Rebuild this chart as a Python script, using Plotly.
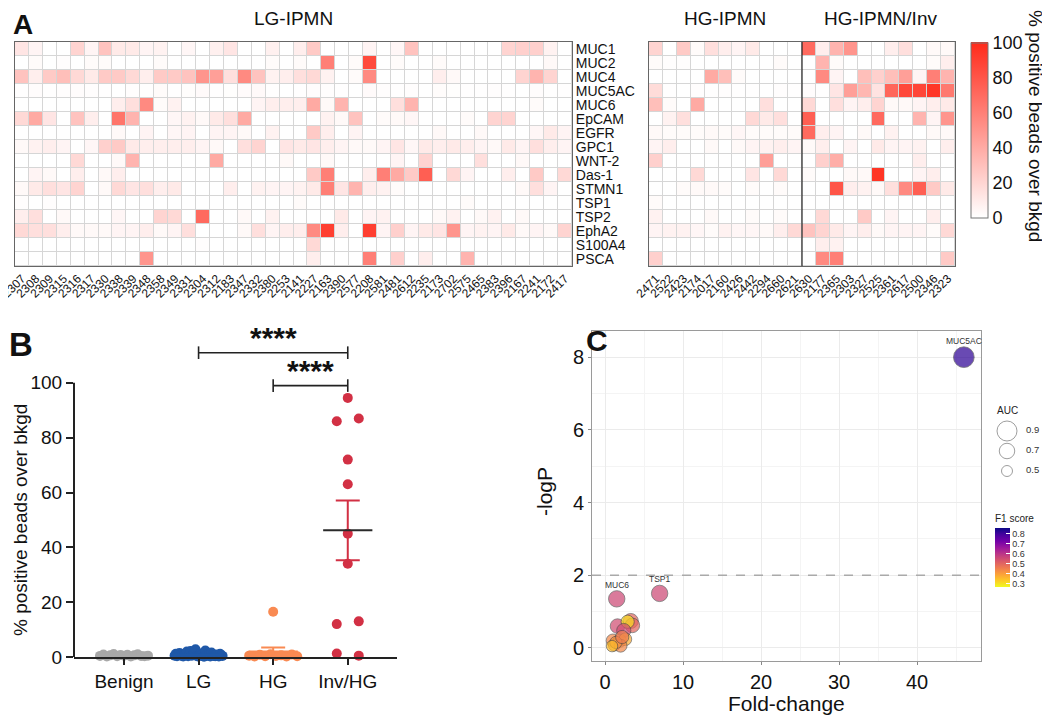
import numpy as np
import plotly.graph_objects as go

# The page body has an 8px default margin: the figure is sized to the visible area
OFF = 8
W, H = 1050 - OFF, 719 - OFF
FONT = "Arial, Liberation Sans, sans-serif"

def PX(x):
    return (x - OFF) / W

def PY(y):
    return 1 - (y - OFF) / H

# ---------------- Panel A data ----------------
markers = ["MUC1", "MUC2", "MUC4", "MUC5AC", "MUC6", "EpCAM", "EGFR", "GPC1",
           "WNT-2", "Das-1", "STMN1", "TSP1", "TSP2", "EphA2", "S100A4", "PSCA"]

lg_samples = ["2307", "2308", "2309", "2315", "2316", "2317", "2330", "2338", "2339", "2348",
              "2358", "2349", "2331", "2304", "2312", "2183", "2347", "2332", "2380", "2253",
              "2141", "2227", "2163", "2390", "2577", "2208", "2581", "2481", "2612", "2235",
              "2173", "2702", "2575", "2465", "2383", "2396", "2167", "2241", "2172", "2417"]
hg_samples = ["2471", "2522", "2423", "2174", "2017", "2160", "2426", "2442", "2294", "2660", "2621"]
inv_samples = ["2630", "2177", "2365", "2303", "2327", "2525", "2361", "2617", "2500", "2346", "2323"]

# % positive beads over bkgd, LG-IPMN (rows = markers, cols = lg_samples)
lg_muc1 = [12, 5, 0, 0, 20, 5, 28, 10, 10, 5, 6, 0, 4, 0, 7, 12, 0, 0, 7, 0,
           8, 25, 0, 0, 0, 5, 0, 4, 28, 0, 0, 0, 0, 0, 0, 20, 22, 22, 6, 0]
lg_muc2 = [0, 2, 0, 1, 0, 2, 2, 0, 0, 0, 2, 0, 0, 0, 0, 0, 0, 0, 2, 0,
           2, 0, 60, 0, 2, 85, 0, 2, 0, 0, 2, 0, 0, 0, 0, 0, 0, 0, 3, 0]
lg_muc4 = [28, 8, 25, 30, 18, 10, 25, 25, 18, 8, 25, 25, 28, 50, 45, 15, 55, 28, 6, 8,
           15, 18, 6, 0, 2, 55, 0, 0, 0, 0, 8, 3, 0, 0, 0, 0, 20, 35, 20, 0]
lg_muc5ac = [0.5, 1.2, 0.3, 0.8, 1.5, 1.0, 0.4, 0.2, 0.9, 0.6, 2.0, 0.3, 1.1, 2.2, 0.5, 0.7, 1.8, 2.8, 0.4, 0.2,
             0.6, 1.3, 0.8, 0.3, 0.1, 2.4, 0.9, 0.5, 1.0, 0.2, 1.6, 0.7, 0.4, 0.3, 0.9, 0.5, 0.2, 1.2, 0.6, 0.4]
lg_muc6 = [0, 0, 0, 0, 0, 0, 0, 8, 15, 55, 2, 6, 0, 0, 0, 0, 0, 5, 8, 8,
           8, 40, 3, 35, 0, 0, 0, 15, 35, 0, 0, 0, 0, 0, 0, 0, 0, 2, 0, 0]
lg_epcam = [18, 40, 12, 0, 28, 8, 0, 65, 35, 0, 0, 4, 6, 3, 10, 15, 40, 0, 0, 0,
            0, 0, 6, 3, 28, 0, 2, 3, 4, 0, 0, 0, 2, 0, 20, 20, 0, 0, 0, 0]
lg_egfr = [0, 0, 0, 0, 0, 0, 0, 3, 0, 5, 0, 4, 5, 0, 5, 5, 3, 0, 6, 0,
           0, 25, 8, 0, 5, 0, 0, 0, 0, 0, 3, 0, 0, 3, 0, 0, 0, 4, 10, 5]
lg_gpc1 = [3, 6, 8, 5, 0, 4, 22, 25, 10, 8, 8, 8, 8, 5, 3, 0, 15, 20, 0, 12,
           10, 12, 8, 5, 3, 3, 5, 12, 4, 10, 8, 10, 8, 5, 3, 10, 5, 15, 8, 5]
lg_wnt2 = [0, 0, 0, 0, 18, 0, 0, 3, 35, 0, 0, 0, 0, 0, 40, 0, 0, 0, 0, 3,
           0, 0, 3, 0, 0, 0, 0, 5, 0, 20, 0, 0, 0, 15, 0, 0, 3, 0, 0, 0]
lg_das1 = [0, 5, 3, 0, 8, 0, 3, 8, 0, 0, 0, 0, 0, 0, 0, 0, 0, 0, 0, 0,
           0, 25, 60, 0, 0, 8, 60, 40, 25, 75, 0, 18, 5, 0, 0, 8, 0, 25, 0, 18]
lg_stmn1 = [3, 10, 15, 12, 20, 0, 3, 18, 12, 15, 8, 10, 0, 0, 0, 8, 0, 6, 5, 5,
            6, 10, 60, 12, 35, 8, 6, 2, 0, 0, 0, 0, 0, 0, 0, 0, 3, 15, 5, 0]
lg_tsp1 = [1, 0, 1, 0, 0, 0, 0, 0, 0, 0, 0, 0, 0, 0, 0, 0, 0, 0, 0, 0,
           2, 0, 0, 0, 0, 0, 0, 0, 0, 0, 0, 0, 2, 0, 0, 0, 0, 0, 0, 0]
lg_tsp2 = [8, 15, 0, 3, 0, 0, 0, 4, 0, 0, 20, 18, 0, 70, 0, 0, 3, 0, 6, 0,
           0, 0, 0, 10, 0, 5, 6, 0, 0, 0, 3, 6, 0, 3, 6, 0, 3, 0, 0, 0]
lg_epha2 = [18, 15, 15, 8, 3, 3, 3, 5, 5, 8, 3, 5, 15, 0, 0, 0, 3, 15, 5, 8,
            8, 55, 90, 8, 0, 90, 5, 22, 5, 10, 12, 50, 5, 6, 5, 10, 3, 5, 3, 20]
lg_s100a4 = [0, 0, 0, 0, 0, 0, 0, 0, 0, 0, 0, 0, 0, 1, 0, 0, 0, 0, 0, 0,
             0, 18, 0, 0, 0, 0, 0, 0, 0, 0, 0, 0, 0, 0, 0, 0, 0, 0, 0, 0]
lg_psca = [0, 0, 0, 0, 0, 0, 0, 0, 0, 50, 0, 0, 0, 0, 0, 0, 0, 0, 0, 0,
           0, 8, 0, 0, 0, 60, 0, 22, 0, 8, 0, 0, 35, 0, 0, 0, 0, 0, 0, 0]

# HG-IPMN (11) followed by HG-IPMN/Inv (11)
hg_muc1 = [20, 0, 25, 2, 15, 8, 5, 10, 0, 0, 0, 70, 8, 35, 50, 0, 0, 8, 15, 0, 3, 3]
hg_muc2 = [2, 1, 1, 0, 0, 0, 0, 0, 0, 2, 0, 0, 35, 2, 0, 0, 0, 0, 0, 0, 2, 8]
hg_muc4 = [0, 0, 0, 0, 40, 30, 2, 0, 0, 0, 0, 0, 55, 5, 0, 30, 22, 30, 45, 5, 60, 35]
hg_muc5ac = [16.5, 0.5, 0.2, 0.8, 0.3, 1.0, 0.4, 0.6, 0.2, 0.9, 0.3,
             1.3, 0.5, 12, 45, 34, 13, 72, 86, 87, 94.5, 63]
hg_muc6 = [30, 2, 0, 40, 0, 0, 0, 0, 15, 0, 0, 18, 0, 15, 5, 8, 20, 3, 3, 5, 8, 10]
hg_epcam = [0, 6, 15, 0, 0, 0, 0, 18, 10, 15, 0, 75, 0, 0, 0, 0, 70, 0, 0, 35, 5, 50]
hg_egfr = [3, 2, 2, 2, 3, 2, 4, 2, 2, 2, 2, 70, 8, 5, 0, 3, 0, 6, 0, 0, 3, 3]
hg_gpc1 = [5, 8, 0, 0, 3, 0, 3, 5, 6, 8, 5, 3, 8, 0, 5, 0, 10, 5, 5, 6, 0, 8]
hg_wnt2 = [22, 0, 0, 0, 0, 0, 0, 0, 45, 0, 0, 0, 22, 38, 0, 0, 0, 0, 0, 8, 0, 0]
hg_das1 = [0, 0, 0, 18, 0, 0, 0, 12, 0, 18, 0, 2, 0, 0, 3, 3, 95, 0, 0, 5, 8, 0]
hg_stmn1 = [0, 0, 2, 3, 3, 2, 0, 2, 0, 2, 0, 0, 0, 80, 8, 6, 3, 15, 55, 75, 25, 10]
hg_tsp1 = [2, 0, 0, 0, 0, 0, 0, 0, 0, 0, 0, 0, 0, 0, 0, 0, 0, 0, 0, 0, 0, 0]
hg_tsp2 = [6, 0, 0, 0, 3, 0, 0, 2, 0, 2, 0, 0, 18, 0, 0, 25, 0, 5, 0, 0, 8, 0]
hg_epha2 = [5, 6, 6, 4, 2, 6, 4, 4, 3, 8, 18, 28, 20, 10, 5, 8, 3, 5, 5, 5, 2, 18]
hg_s100a4 = [0, 0, 0, 0, 0, 0, 0, 0, 0, 0, 0, 0, 8, 6, 0, 0, 0, 0, 0, 0, 0, 0]
hg_psca = [22, 0, 0, 0, 0, 0, 0, 0, 0, 0, 0, 0, 55, 60, 0, 0, 0, 0, 0, 0, 0, 25]

lg_z = [lg_muc1, lg_muc2, lg_muc4, lg_muc5ac, lg_muc6, lg_epcam, lg_egfr, lg_gpc1,
        lg_wnt2, lg_das1, lg_stmn1, lg_tsp1, lg_tsp2, lg_epha2, lg_s100a4, lg_psca]
hg_z = [hg_muc1, hg_muc2, hg_muc4, hg_muc5ac, hg_muc6, hg_epcam, hg_egfr, hg_gpc1,
        hg_wnt2, hg_das1, hg_stmn1, hg_tsp1, hg_tsp2, hg_epha2, hg_s100a4, hg_psca]

# ---------------- Panel B data (MUC5AC) ----------------
b_groups = ["Benign", "LG", "HG", "Inv/HG"]
benign_vals = [0.4, 0.9, 0.2, 0.6, 1.1, 0.3, 0.7, 0.5, 0.8, 0.2, 0.6, 1.0, 0.4, 0.3, 0.5]
lg_vals = lg_muc5ac
hg_vals = hg_muc5ac[:11]
inv_vals = hg_muc5ac[11:]
b_colors = ["#A8A8A8", "#1F58A8", "#F98A52", "#D23044"]

# ---------------- Panel C data ----------------
c_genes = ["MUC5AC", "TSP1", "MUC6", "MUC1", "MUC4", "EpCAM", "Das-1", "STMN1",
           "MUC2", "EGFR", "PSCA", "GPC1", "WNT-2", "TSP2", "EphA2", "S100A4"]
fold_change = [46.0, 7.0, 1.5, 1.6, 3.3, 3.5, 2.9, 2.4, 1.0, 1.9, 2.6, 1.2, 2.0, 1.4, 2.2, 0.9]
neg_log_p = [8.0, 1.5, 1.35, 0.6, 0.74, 0.62, 0.72, 0.48, 0.2, 0.2, 0.24, 0.08, 0.06, 0.15, 0.3, 0.05]
auc_vals = [0.93, 0.74, 0.74, 0.66, 0.68, 0.66, 0.6, 0.64, 0.6, 0.6, 0.58, 0.55, 0.58, 0.56, 0.6, 0.52]
f1_vals = [0.82, 0.56, 0.56, 0.55, 0.50, 0.50, 0.31, 0.55, 0.44, 0.45, 0.38, 0.38, 0.44, 0.42, 0.46, 0.36]
auc_legend = [0.9, 0.7, 0.5]

fig = go.Figure()

# ---------------- geometry (page pixels) ----------------
A1 = dict(x0=15, x1=572, y0=42, y1=266)
A2 = dict(x0=649, x1=955, y0=42, y1=266)
B = dict(x0=74, x1=397, y0=328, y1=657)
B_XR = [-0.67, 3.66]
B_YR = [0, 120]
C = dict(x0=592, x1=981, y0=331, y1=661)
C_XR = [-1.67, 48.2]
C_YR = [-0.36, 8.72]


def dom(g):
    return [PX(g["x0"]), PX(g["x1"])], [PY(g["y1"]), PY(g["y0"])]

# ---------------- Panel A heatmaps ----------------
fig.add_trace(go.Heatmap(z=lg_z, x=lg_samples, y=markers, coloraxis="coloraxis",
                         xgap=1, ygap=1, xaxis="x", yaxis="y"))
fig.add_trace(go.Heatmap(z=hg_z, x=hg_samples + inv_samples, y=markers, coloraxis="coloraxis",
                         xgap=1, ygap=1, xaxis="x2", yaxis="y2"))

for ax in ["x", "x2"]:
    yref = "y" if ax == "x" else "y2"
    fig.add_shape(type="rect", xref=ax + " domain", yref=yref + " domain", x0=0, x1=1, y0=0, y1=1,
                  fillcolor="#D6D6D6", line=dict(width=0), layer="below")

fig.add_shape(type="line", xref="x2", yref="y2 domain", x0=len(hg_samples) - 0.5, x1=len(hg_samples) - 0.5,
              y0=0, y1=1, line=dict(color="#222", width=1.2))

# ---------------- Panel B ----------------
b_xpx = (B["x1"] - B["x0"]) / (B_XR[1] - B_XR[0])
b_ypx = (B["y1"] - B["y0"]) / (B_YR[1] - B_YR[0])


def swarm(vals, dmin=10.0, max_half=24.0, max_sp=22.0):
    n = len(vals)
    order = sorted(range(n), key=lambda i: vals[i])
    rows = []
    for i in order:
        if rows and (vals[i] - vals[rows[-1][0]]) * b_ypx < dmin:
            rows[-1].append(i)
        else:
            rows.append([i])
    offs = [0.0] * n
    for r in rows:
        r = sorted(r)
        m = len(r)
        if m == 1:
            continue
        sp = min(max_sp, 2 * max_half / (m - 1))
        for k, i in enumerate(r):
            offs[i] = (k - (m - 1) / 2) * sp / b_xpx
    return offs

all_b = [benign_vals, lg_vals, hg_vals, inv_vals]
for gi, vals in enumerate(all_b):
    offs = swarm(vals)
    fig.add_trace(go.Scatter(x=[gi + o for o in offs], y=vals, mode="markers",
                             marker=dict(size=10, color=b_colors[gi], line=dict(width=0)),
                             cliponaxis=False, xaxis="x3", yaxis="y3", showlegend=False))
for gi, vals in enumerate(all_b):
    arr = np.array(vals, dtype=float)
    m = arr.mean()
    sem = arr.std(ddof=1) / np.sqrt(len(arr))
    col = b_colors[gi]
    fig.add_trace(go.Scatter(x=[gi], y=[m], mode="markers", marker=dict(size=1, opacity=0),
                             error_y=dict(type="data", array=[sem], color=col, thickness=2, width=12),
                             cliponaxis=False, xaxis="x3", yaxis="y3", showlegend=False))
    fig.add_trace(go.Scatter(x=[gi - 0.33, gi + 0.33], y=[m, m], mode="lines",
                             line=dict(color="#2A2A2A" if gi == 3 else col, width=2),
                             xaxis="x3", yaxis="y3", showlegend=False))


def bx(v):
    return PX(B["x0"] + (v - B_XR[0]) * b_xpx)


def by(v):
    return PY(B["y1"] - (v - B_YR[0]) * b_ypx)

# y axis line 0..100
fig.add_shape(type="line", xref="paper", yref="paper", x0=bx(B_XR[0]), x1=bx(B_XR[0]),
              y0=by(0), y1=by(100), line=dict(color="#222", width=2))

# significance brackets
brackets = [(1, 3, 111, "****", 116.5), (2, 3, 99, "****", 104.5)]
for a, b, yv, txt, ty in brackets:
    fig.add_shape(type="line", xref="paper", yref="paper", x0=bx(a), x1=bx(b), y0=by(yv), y1=by(yv),
                  line=dict(color="#222", width=1.6))
    for e in (a, b):
        fig.add_shape(type="line", xref="paper", yref="paper", x0=bx(e), x1=bx(e),
                      y0=by(yv - 2.3), y1=by(yv + 2.3), line=dict(color="#222", width=1.6))
    fig.add_annotation(x=(a + b) / 2, y=ty, xref="x3", yref="y3", text="<b>%s</b>" % txt,
                       showarrow=False, font=dict(size=30, color="#111", family=FONT))

# ---------------- Panel C ----------------
def auc_size(a):
    return 11 + (a - 0.5) * 22.5

fig.add_shape(type="line", xref="x4 domain", yref="y4", x0=0, x1=1, y0=2, y1=2,
              line=dict(color="#AAAAAA", width=1.6, dash="dash"))
fig.add_trace(go.Scatter(x=fold_change, y=neg_log_p, mode="markers",
                         marker=dict(size=[auc_size(a) for a in auc_vals], sizemode="diameter",
                                     color=f1_vals, coloraxis="coloraxis2", opacity=0.72,
                                     line=dict(color="#444", width=0.8)),
                         xaxis="x4", yaxis="y4", showlegend=False, cliponaxis=False))
for g, fc, lp, a in zip(c_genes, fold_change, neg_log_p, auc_vals):
    if lp > 1:
        fig.add_annotation(x=fc, y=lp, xref="x4", yref="y4", text=g, showarrow=False,
                           yshift=auc_size(a) / 2 + 6, font=dict(size=8.5, color="#333", family=FONT))

# AUC size legend on hidden axes
fig.add_trace(go.Scatter(x=[0.24] * len(auc_legend), y=list(range(len(auc_legend)))[::-1], mode="markers",
                         marker=dict(size=[auc_size(a) for a in auc_legend], color="white",
                                     line=dict(color="#777", width=1)),
                         xaxis="x5", yaxis="y5", showlegend=False, cliponaxis=False))
fig.add_trace(go.Scatter(x=[0.62] * len(auc_legend), y=list(range(len(auc_legend)))[::-1], mode="text",
                         text=[str(a) for a in auc_legend], textposition="middle right",
                         textfont=dict(size=9.5, color="#333", family=FONT),
                         xaxis="x5", yaxis="y5", showlegend=False, cliponaxis=False))

# ---------------- axes ----------------
xd1, yd1 = dom(A1)
xd2, yd2 = dom(A2)
xd3, yd3 = dom(B)
xd4, yd4 = dom(C)

hm_x = dict(type="category", tickangle=-45, tickfont=dict(size=12, color="#111"), ticks="",
            showline=True, mirror=True, linecolor="#666", linewidth=1, showgrid=False,
            zeroline=False, automargin=False)
hm_y = dict(type="category", autorange="reversed", ticks="", showline=True, mirror=True,
            linecolor="#666", linewidth=1, showgrid=False, zeroline=False, automargin=False,
            tickmode="array", tickvals=markers, ticktext=markers)

fig.update_layout(
    xaxis=dict(domain=xd1, anchor="y", tickmode="array", tickvals=lg_samples, ticktext=lg_samples, **hm_x),
    yaxis=dict(domain=yd1, anchor="x", side="right", tickfont=dict(size=14, color="#111"), **hm_y),
    xaxis2=dict(domain=xd2, anchor="y2", tickmode="array", tickvals=hg_samples + inv_samples,
                ticktext=hg_samples + inv_samples, **hm_x),
    yaxis2=dict(domain=yd2, anchor="x2", showticklabels=False, **hm_y),
    xaxis3=dict(domain=xd3, anchor="y3", range=B_XR, tickvals=list(range(4)), ticktext=b_groups,
                showline=True, linecolor="#222", linewidth=2, ticks="outside", ticklen=6, tickwidth=2,
                tickcolor="#222", tickfont=dict(size=19, color="#111"), showgrid=False, zeroline=False,
                automargin=False),
    yaxis3=dict(domain=yd3, anchor="x3", range=B_YR, tickvals=[0, 20, 40, 60, 80, 100],
                showline=False, ticks="outside", ticklen=7, tickwidth=2, tickcolor="#222",
                tickfont=dict(size=19, color="#111"), showgrid=False, zeroline=False, automargin=False),
    xaxis4=dict(domain=xd4, anchor="y4", range=C_XR, tickvals=[0, 10, 20, 30, 40],
                showline=True, mirror=True, linecolor="#9A9A9A", linewidth=1,
                ticks="outside", ticklen=3, tickcolor="#888", tickfont=dict(size=20, color="#111"),
                showgrid=True, gridcolor="#EBEBEB", gridwidth=1,
                minor=dict(tickvals=[5, 15, 25, 35, 45], showgrid=True, gridcolor="#F4F4F4", ticks=""),
                zeroline=False, automargin=False),
    yaxis4=dict(domain=yd4, anchor="x4", range=C_YR, tickvals=[0, 2, 4, 6, 8],
                showline=True, mirror=True, linecolor="#9A9A9A", linewidth=1,
                ticks="outside", ticklen=3, tickcolor="#888", tickfont=dict(size=20, color="#111"),
                showgrid=True, gridcolor="#EBEBEB", gridwidth=1,
                minor=dict(tickvals=[1, 3, 5, 7], showgrid=True, gridcolor="#F4F4F4", ticks=""),
                zeroline=False, automargin=False),
    xaxis5=dict(domain=[PX(995), PX(1045)], anchor="y5", range=[0, 1], visible=False),
    yaxis5=dict(domain=[PY(481), PY(421)], anchor="x5", range=[-0.5, 2.5], visible=False),
    coloraxis=dict(cmin=0, cmax=100, colorscale=[[0, "#FFFFFF"], [1, "#FF2A1A"]],
                   colorbar=dict(x=PX(971), xanchor="left", y=PY(130), yanchor="middle",
                                 len=175 / H, lenmode="fraction", thickness=17,
                                 tickvals=[0, 20, 40, 60, 80, 100], ticks="",
                                 tickfont=dict(size=18, color="#111", family=FONT),
                                 outlinecolor="#777", outlinewidth=1, xpad=0, ypad=0)),
    coloraxis2=dict(cmin=0.27, cmax=0.86, colorscale="Plasma", reversescale=True,
                    colorbar=dict(x=PX(995), xanchor="left", y=PY(549), yanchor="middle",
                                  len=75 / H, lenmode="fraction", thickness=15,
                                  tickvals=[0.3, 0.4, 0.5, 0.6, 0.7, 0.8], ticks="inside", ticklen=4,
                                  tickcolor="white",
                                  tickfont=dict(size=9, color="#333", family=FONT),
                                  title=dict(text="F1 score", side="top",
                                             font=dict(size=10, color="#222", family=FONT)),
                                  outlinewidth=0, xpad=0, ypad=0)),
    width=W, height=H, autosize=False,
    margin=dict(l=0, r=0, t=0, b=0),
    paper_bgcolor="white", plot_bgcolor="white",
    font=dict(family=FONT, color="#111"),
    showlegend=False,
)

# ---------------- annotations (titles, labels) ----------------
ann = [
    (23, 25, "<b>A</b>", 28, 0),
    (21, 344, "<b>B</b>", 33, 0),
    (597, 340, "<b>C</b>", 30, 0),
    ((A1["x0"] + A1["x1"]) / 2, 19, "LG-IPMN", 19, 0),
    (725, 19, "HG-IPMN", 19, 0),
    (880, 19, "HG-IPMN/Inv", 19, 0),
    (1036, 126, "% positive beads over bkgd", 19, 90),
    (20, 520, "% positive beads over bkgd", 19, -90),
    (786, 703, "Fold-change", 21, 0),
    (544, 492, "-logP", 21, -90),
]
for x, y, t, s, ang in ann:
    fig.add_annotation(x=PX(x), y=PY(y), xref="paper", yref="paper", text=t, showarrow=False,
                       textangle=ang, xanchor="center", yanchor="middle",
                       font=dict(size=s, color="#111", family=FONT))
fig.add_annotation(x=PX(995), y=PY(410), xref="paper", yref="paper", text="AUC", showarrow=False,
                   xanchor="left", yanchor="middle", font=dict(size=10, color="#222", family=FONT))

fig.write_html("out.html")
